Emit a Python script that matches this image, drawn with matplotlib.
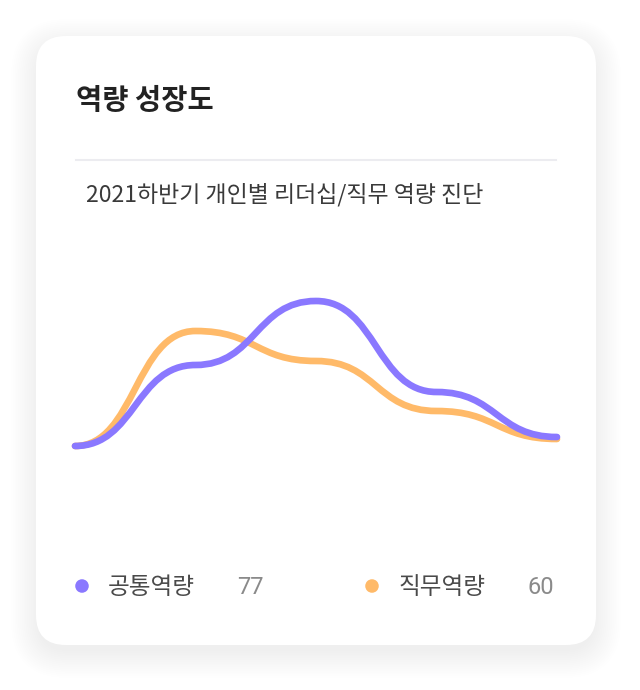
import matplotlib
matplotlib.use("Agg")
import matplotlib.pyplot as plt
from matplotlib.patches import FancyBboxPatch, PathPatch
from matplotlib.path import Path
import numpy as np

plt.rcParams['font.family'] = ['Noto Sans CJK KR', 'DejaVu Sans']

# ---- data ----
title = "역량 성장도"
subtitle = "2021하반기 개인별 리더십/직무 역량 진단"
series_names = ["공통역량", "직무역량"]
series_totals = [77, 60]
common_values = [17, 57.5, 89.5, 44, 21.5]
job_values = [17, 74.5, 59.5, 34.5, 20.5]
colors = ["#8a78ff", "#ffba69"]

W, H = 640, 690
fig = plt.figure(figsize=(W / 100, H / 100), dpi=100)
fig.patch.set_facecolor("white")

# background axes in pixel coordinates (y down)
bg = fig.add_axes([0, 0, 1, 1])
bg.set_xlim(0, W)
bg.set_ylim(H, 0)
bg.axis("off")

# card shadow (very soft)
cx0, cy0, cx1, cy1 = 36, 36, 596, 645
n = 16
for i in range(n):
    grow = i * 1.8
    sh = FancyBboxPatch((cx0 - grow + 2, cy0 - grow + 10), (cx1 - cx0) + 2 * grow - 4,
                        (cy1 - cy0) + 2 * grow - 4,
                        boxstyle=f"round,pad=0,rounding_size={30 + grow}",
                        facecolor="black", edgecolor="none", alpha=0.0035, zorder=1)
    bg.add_patch(sh)

card = FancyBboxPatch((cx0, cy0), cx1 - cx0, cy1 - cy0,
                      boxstyle="round,pad=0,rounding_size=30",
                      facecolor="white", edgecolor="none", zorder=2)
bg.add_patch(card)

bg.text(76, 101, title, fontsize=20.5, fontweight="bold", color="#222222",
        ha="left", va="center", zorder=3)
bg.plot([76, 556], [160, 160], color="#ececf0", lw=1.5, zorder=3)
bg.text(86, 195, subtitle, fontsize=16.5, color="#3a3a3a",
        ha="left", va="center", zorder=3)

# legend
leg = [(82, 108, 237, "left"), (372, 399, 554, "right")]
for (dx, lx, vx, vha), name, tot, col in zip(leg, series_names, series_totals, colors):
    bg.scatter([dx], [586], s=95, color=col, edgecolor="none", zorder=3)
    bg.text(lx, 588, name, fontsize=17, fontweight=500, color="#4a4a4a",
            ha="left", va="center", zorder=3)
    bg.text(vx, 588, str(tot), fontsize=17, color="#8a8a8a", ha=vha, va="center",
            family=['Roboto', 'DejaVu Sans'], zorder=3)

# chart axes
px_left, px_right = 75, 557
px_y0, px_y100 = 480, 280
ax = fig.add_axes([px_left / W, (H - px_y0) / H, (px_right - px_left) / W, (px_y0 - px_y100) / H])
ax.set_xlim(0, len(common_values) - 1)
ax.set_ylim(0, 100)
ax.axis("off")
ax.patch.set_alpha(0)


def smooth_path(vals):
    xs = np.arange(len(vals))
    verts = [(xs[0], vals[0])]
    codes = [Path.MOVETO]
    for i in range(1, len(vals)):
        xm = (xs[i - 1] + xs[i]) / 2
        verts += [(xm, vals[i - 1]), (xm, vals[i]), (xs[i], vals[i])]
        codes += [Path.CURVE4] * 3
    return Path(verts, codes)


for vals, col, z in [(job_values, colors[1], 4), (common_values, colors[0], 5)]:
    p = PathPatch(smooth_path(vals), facecolor="none", edgecolor=col, lw=4.8,
                  capstyle="round", joinstyle="round", zorder=z, clip_on=False)
    ax.add_patch(p)

fig.savefig("out.png", dpi=100, facecolor="white")
